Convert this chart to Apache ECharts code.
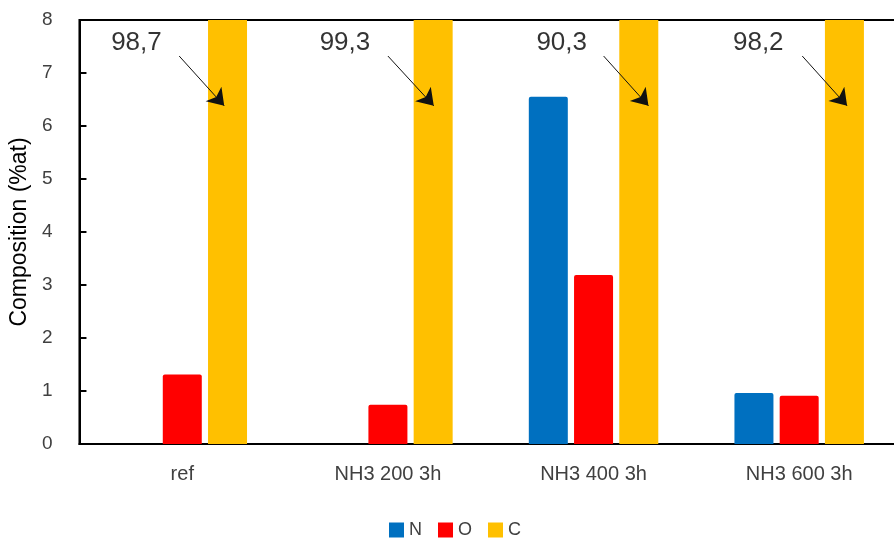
<!DOCTYPE html>
<html>
<head>
<meta charset="utf-8">
<script src="https://cdn.jsdelivr.net/npm/echarts@6/dist/echarts.min.js"></script>
<style>html,body{margin:0;padding:0;background:#fff;overflow:hidden;}#c{width:910px;height:538px;}</style>
</head>
<body>
<div id="c"></div>
<script>
const categories = ['ref', 'NH3 200 3h', 'NH3 400 3h', 'NH3 600 3h'];
const seriesN = [0, 0, 6.55, 0.96];
const seriesO = [1.31, 0.74, 3.19, 0.91];
const seriesC = [98.7, 99.3, 90.3, 98.2];
const yTicks = [0, 1, 2, 3, 4, 5, 6, 7, 8];
// annotation anchors (category-index units, y in %at)
const noteTextX = [0.277, 1.291, 2.345, 3.301];
const noteArrowX0 = [0.485, 1.5, 2.549, 3.515];
const noteArrowX1 = [0.704, 1.723, 2.767, 3.733];
const noteTextY = 7.57, noteArrowY0 = 7.32, noteArrowY1 = 6.38;

const FONT = '"Liberation Sans", Arial, sans-serif';
const chart = echarts.init(document.getElementById('c'), null, {renderer: 'canvas'});
const lineData = seriesC.map((v, i) => ({coords: [[noteArrowX0[i], noteArrowY0], [noteArrowX1[i], noteArrowY1]]}));
const textData = seriesC.map((v, i) => ({value: [noteTextX[i], noteTextY], name: String(v).replace('.', ',')}));

chart.setOption({
  animation: false,
  textStyle: {fontFamily: FONT},
  grid: {left: 77, top: 20, width: 825, height: 424, show: true, borderColor: '#000', borderWidth: 2, backgroundColor: 'transparent'},
  legend: {
    top: 521, left: 389, itemWidth: 15, itemHeight: 15, itemGap: 16, icon: 'rect', padding: 0,
    textStyle: {fontSize: 18, color: '#404040', fontFamily: FONT, padding: [0, 0, 0, 0]},
    itemStyle: {borderWidth: 0},
    data: ['N', 'O', 'C']
  },
  xAxis: [{
    type: 'category', data: categories,
    axisLine: {lineStyle: {color: '#000', width: 2}},
    axisTick: {show: false},
    axisLabel: {fontSize: 20, color: '#404040', margin: 20}
  }, {
    type: 'value', min: 0, max: 4, show: false
  }],
  yAxis: {
    type: 'value', min: yTicks[0], max: yTicks[yTicks.length - 1], interval: 1,
    name: 'Composition (%at)', nameLocation: 'middle', nameGap: 46,
    nameTextStyle: {fontSize: 23, color: '#000'},
    axisLine: {show: true, lineStyle: {color: '#000', width: 2}},
    axisTick: {show: true, inside: true, length: 7, lineStyle: {color: '#000', width: 2}},
    axisLabel: {fontSize: 19, color: '#404040', margin: 27},
    splitLine: {show: false}
  },
  series: [
    {name: 'N', type: 'bar', data: seriesN, itemStyle: {color: '#0070C0', borderRadius: [2, 2, 0, 0]}, barWidth: 39, barGap: '16%'},
    {name: 'O', type: 'bar', data: seriesO, itemStyle: {color: '#FF0000', borderRadius: [2, 2, 0, 0]}, barWidth: 39, barGap: '16%'},
    {name: 'C', type: 'bar', data: seriesC, itemStyle: {color: '#FFC000'}, barWidth: 39, barGap: '16%', clip: true},
    {
      type: 'lines', coordinateSystem: 'cartesian2d', xAxisIndex: 1, yAxisIndex: 0,
      data: lineData, symbol: ['none', 'arrow'], symbolSize: 16,
      lineStyle: {color: '#111', width: 1, opacity: 1}, z: 5, silent: true
    },
    {
      type: 'scatter', xAxisIndex: 1, yAxisIndex: 0, data: textData, symbolSize: 0, silent: true,
      label: {show: true, position: 'inside', formatter: p => p.name, fontSize: 26, color: '#000', fontFamily: FONT}
    }
  ]
});
</script>
</body>
</html>
